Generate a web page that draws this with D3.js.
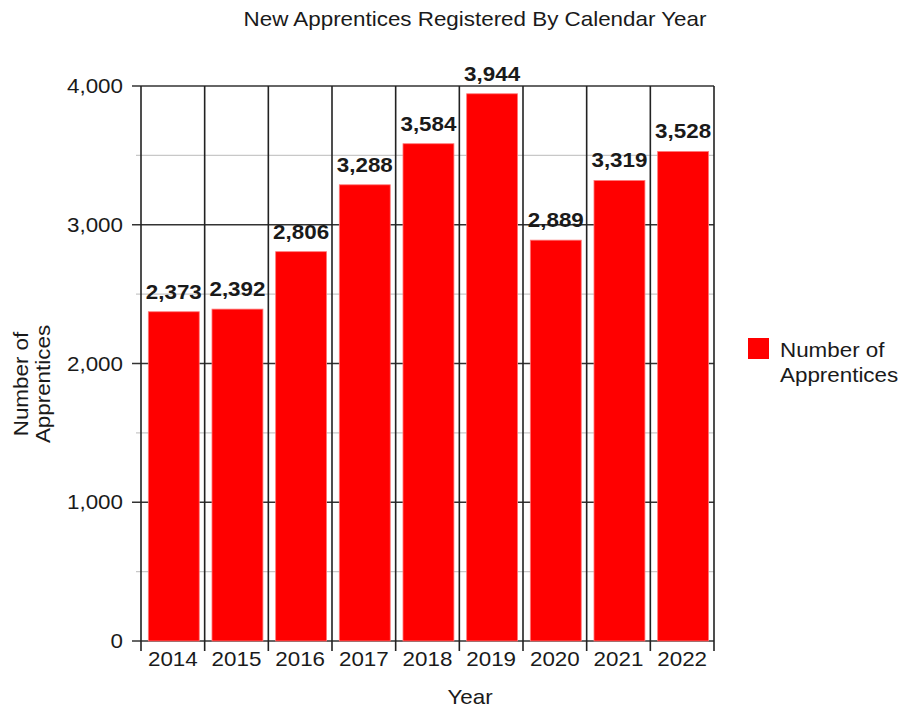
<!DOCTYPE html>
<html>
<head>
<meta charset="utf-8">
<script src="https://cdn.jsdelivr.net/npm/d3@7"></script>
<style>
  html, body { margin: 0; padding: 0; background: #fff; }
  svg { display: block; font-family: "Liberation Sans", Arial, sans-serif; }
</style>
</head>
<body>
<svg id="chart" width="898" height="709"></svg>
<script>
// Registered apprentices per calendar year
const years = ["2014", "2015", "2016", "2017", "2018", "2019", "2020", "2021", "2022"];
const apprentices = [2373, 2392, 2806, 3288, 3584, 3944, 2889, 3319, 3528];
const yTicks = [0, 1000, 2000, 3000, 4000];
const yMinorTicks = [500, 1500, 2500, 3500];

const chartTitle = "New Apprentices Registered By Calendar Year";
const xTitle = "Year";
const yTitleLines = ["Number of", "Apprentices"];
const legendLines = ["Number of", "Apprentices"];

const svg = d3.select("#chart");
const plotL = 141, plotR = 714, plotT = 86, plotB = 641;
const fontSize = 20, stretch = 1.12;
const textColor = "#1a1a1a";

const x = d3.scaleBand().domain(years).range([plotL, plotR]).paddingInner(0).paddingOuter(0);
const y = d3.scaleLinear().domain([0, 4000]).range([plotB, plotT]);
const fmt = d3.format(",");

// Horizontally stretched text helper
function label(g, tx, ty, str, anchor, opts = {}) {
  return g.append("text")
    .attr("transform", `translate(${tx},${ty}) ${opts.rotate ? "rotate(" + opts.rotate + ")" : ""} scale(${stretch},1)`)
    .attr("text-anchor", anchor)
    .attr("font-size", fontSize)
    .attr("font-weight", opts.bold ? "bold" : "normal")
    .attr("fill", textColor)
    .text(str);
}

// Minor gridlines
svg.append("g").selectAll("line").data(yMinorTicks).join("line")
  .attr("x1", plotL - 5).attr("x2", plotR)
  .attr("y1", d => y(d)).attr("y2", d => y(d))
  .attr("stroke", "#c8c8c8").attr("stroke-width", 1.2);

// Major gridlines with tick stubs on the left
svg.append("g").selectAll("line").data(yTicks).join("line")
  .attr("x1", plotL - 9).attr("x2", plotR)
  .attr("y1", d => y(d)).attr("y2", d => y(d))
  .attr("stroke", "#333").attr("stroke-width", 1.6);

// Vertical category separators extending below the baseline as ticks
const bounds = years.map(d => x(d)).concat([plotR]);
svg.append("g").selectAll("line").data(bounds).join("line")
  .attr("x1", d => d).attr("x2", d => d)
  .attr("y1", plotT).attr("y2", plotB + 10)
  .attr("stroke", "#222").attr("stroke-width", 1.6);

// Bars
const bw = x.bandwidth();
const barInset = bw * 0.115, barWidth = bw * 0.8;
svg.append("g").selectAll("rect").data(years).join("rect")
  .attr("x", (d) => x(d) + barInset)
  .attr("width", barWidth)
  .attr("y", (d, i) => y(apprentices[i]))
  .attr("height", (d, i) => y(0) - y(apprentices[i]))
  .attr("fill", "#ff0000")
  .attr("stroke", "#ff7a7a").attr("stroke-width", 0.8);

// Value labels
const vl = svg.append("g");
years.forEach((d, i) => {
  label(vl, x(d) + barInset + barWidth / 2, y(apprentices[i]) - 13, fmt(apprentices[i]), "middle", { bold: true });
});

// Y tick labels
const yl = svg.append("g");
yTicks.forEach(t => label(yl, 123, y(t) + 7, fmt(t), "end"));

// X tick labels
const xl = svg.append("g");
years.forEach(d => label(xl, x(d) + bw / 2, 666, d, "middle"));

// Titles
label(svg, 475, 26, chartTitle, "middle");
label(svg, 470, 704, xTitle, "middle");
label(svg, 28, 384, yTitleLines[0], "middle", { rotate: -90 });
label(svg, 50, 384, yTitleLines[1], "middle", { rotate: -90 });

// Legend
svg.append("rect").attr("x", 748).attr("y", 338).attr("width", 21).attr("height", 21).attr("fill", "#ff0000");
label(svg, 780, 357, legendLines[0], "start");
label(svg, 780, 382, legendLines[1], "start");
</script>
</body>
</html>
